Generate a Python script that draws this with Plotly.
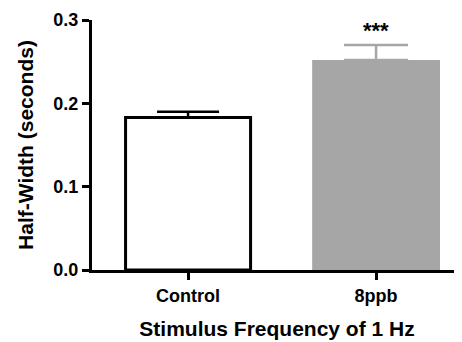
import plotly.graph_objects as go

categories = ["Control", "8ppb"]
values = [0.183, 0.252]
errors = [0.007, 0.018]
y_ticks = [0.0, 0.1, 0.2, 0.3]
y_ticklabels = ["0.0", "0.1", "0.2", "0.3"]

FONT = "Liberation Sans, Arial, sans-serif"

fig = go.Figure()
fig.add_trace(go.Bar(
    x=[0], y=[values[0]], width=0.665,
    marker=dict(color="white", line=dict(color="black", width=3)),
    error_y=dict(type="data", array=[errors[0]], arrayminus=[0], color="black", thickness=2.5, width=31),
    showlegend=False,
))
fig.add_trace(go.Bar(
    x=[1], y=[values[1]], width=0.68,
    marker=dict(color="#a6a6a6", line=dict(width=0)),
    error_y=dict(type="data", array=[errors[1]], arrayminus=[0], color="#a6a6a6", thickness=2.5, width=32),
    showlegend=False,
))
fig.add_annotation(x=1, y=values[1] + errors[1] + 0.017, text="***", showarrow=False,
                   font=dict(family=FONT, size=22, color="black", weight="bold"), yanchor="middle")

fig.update_layout(
    width=454, height=334,
    margin=dict(l=84, r=0, t=12, b=72),
    plot_bgcolor="white", paper_bgcolor="white",
    font=dict(family=FONT, color="black"),
    xaxis=dict(
        range=[-0.511, 1.457], tickmode="array", tickvals=[0, 1], ticktext=categories,
        showline=True, linecolor="black", linewidth=3, ticks="outside", ticklen=7, tickwidth=3,
        tickcolor="black", showgrid=False, zeroline=False,
        tickfont=dict(family=FONT, size=18, weight="bold"),
        title=dict(text="Stimulus Frequency of 1 Hz", font=dict(family=FONT, size=21, weight="bold"), standoff=17),
    ),
    yaxis=dict(
        range=[0, 0.3], tickmode="array", tickvals=y_ticks, ticktext=y_ticklabels,
        showline=True, linecolor="black", linewidth=3, ticks="outside", ticklen=7, tickwidth=3,
        tickcolor="black", showgrid=False, zeroline=False,
        tickfont=dict(family=FONT, size=18, weight="bold"),
        title=dict(text="Half-Width (seconds)", font=dict(family=FONT, size=21, weight="bold"), standoff=15),
    ),
)

fig.write_html("out.html")
